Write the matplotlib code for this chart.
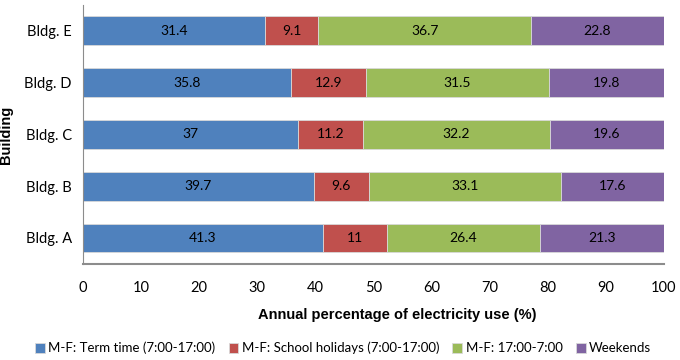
import numpy as np
import matplotlib
matplotlib.use('Agg')
import matplotlib.pyplot as plt

buildings = ['Bldg. A', 'Bldg. B', 'Bldg. C', 'Bldg. D', 'Bldg. E']
term_time = [41.3, 39.7, 37, 35.8, 31.4]
school_hol = [11, 9.6, 11.2, 12.9, 9.1]
evenings = [26.4, 33.1, 32.2, 31.5, 36.7]
weekends = [21.3, 17.6, 19.6, 19.8, 22.8]
series_names = ['M-F: Term time (7:00-17:00)', 'M-F: School holidays (7:00-17:00)',
                'M-F: 17:00-7:00', 'Weekends']
colors = ['#4F81BD', '#C0504D', '#9BBB59', '#8064A2']

plt.rcParams['font.family'] = ['Lato', 'DejaVu Sans']

fig = plt.figure(figsize=(6.8, 3.6), dpi=100)
ax = fig.add_axes([0.122, 0.267, 0.854, 0.719])

y = np.arange(len(buildings))
left = np.zeros(len(buildings))
for vals, name, c in zip([term_time, school_hol, evenings, weekends], series_names, colors):
    bars = ax.barh(y, vals, left=left, height=0.56, color=c, edgecolor='#d9d9d9',
                   linewidth=0.6, label=name)
    ax.bar_label(bars, labels=[f'{v:g}' for v in vals], label_type='center',
                 fontsize=10, color='black')
    left += np.array(vals)

ax.set_xlim(0, 100)
ax.set_ylim(-0.5, 4.5)
ax.set_xticks(range(0, 101, 10))
ax.set_yticks(y)
ax.set_yticklabels(buildings)
ax.tick_params(length=0, labelsize=10.5, pad=8)
ax.tick_params(axis='x', pad=12)

for s in ['top', 'right']:
    ax.spines[s].set_visible(False)
ax.spines['left'].set_color('#8c8c8c')
ax.spines['bottom'].set_color('#8c8c8c')
ax.spines['bottom'].set_linewidth(1.5)

ax.set_xlabel('Annual percentage of electricity use (%)', family='Liberation Sans',
              fontweight='bold', fontsize=10.5, labelpad=10, x=0.542)
ax.set_ylabel('Building', family='Liberation Sans', fontweight='bold', fontsize=10.5,
              labelpad=8)

fig.legend(*ax.get_legend_handles_labels(), loc='center',
           bbox_to_anchor=(343 / 680, 1 - 348 / 360), ncol=4, frameon=False,
           fontsize=9.5, handlelength=0.75, handleheight=0.75, handletextpad=0.25,
           columnspacing=1.0, borderpad=0)

fig.savefig('out.png', dpi=100)
